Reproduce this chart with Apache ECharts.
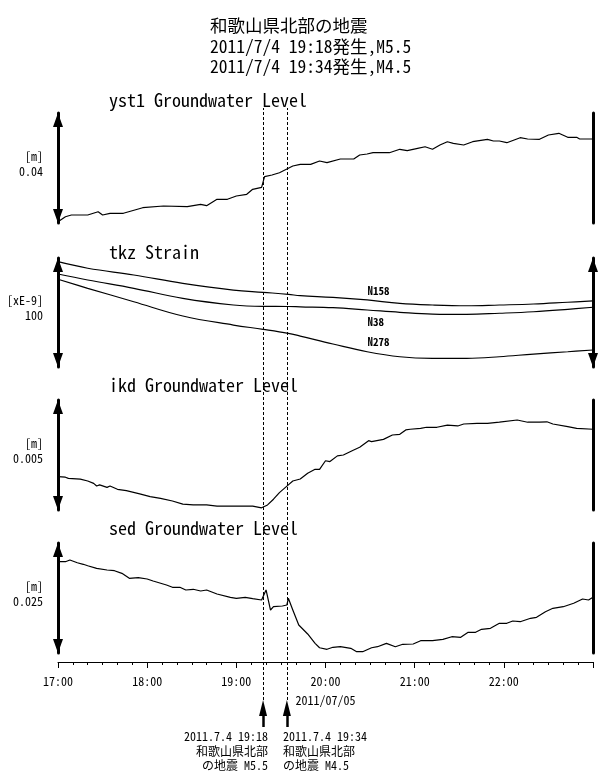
<!DOCTYPE html>
<html>
<head>
<meta charset="utf-8">
<script src="https://cdn.jsdelivr.net/npm/echarts@6/dist/echarts.min.js"></script>
<style>
html, body { margin: 0; padding: 0; background: #fff; }
#main { width: 602px; height: 774px; }
</style>
</head>
<body>
<div id="main"></div>
<script>
var FONT = "'Noto Sans Mono CJK JP','Noto Sans CJK JP',monospace";

// time in minutes after 2011/7/4 17:00
var eventT = [138, 154];

// yst1 groundwater level [m]
var yst1T = [0,5,9,20,27,30,35,44,57,71,87,96,100,107,114,120,127,131,137,139,144,149,155,158,163,170,176,181,190,199,203,208,212,223,230,235,242,247,252,257,262,266,273,279,289,293,297,302,311,316,324,330,337,343,349,351,360];
var yst1V = [0.00047,0.00229,0.00291,0.00291,0.00411,0.00291,0.00353,0.00353,0.00556,0.00618,0.00593,0.0068,0.00629,0.00862,0.00862,0.00982,0.01044,0.01225,0.01298,0.01684,0.01745,0.01829,0.01989,0.02073,0.02134,0.02134,0.02254,0.02193,0.02327,0.02327,0.02473,0.02509,0.02556,0.02556,0.0268,0.02629,0.02716,0.02774,0.0268,0.02836,0.02956,0.02898,0.02836,0.02956,0.03043,0.02982,0.02982,0.0292,0.03102,0.03054,0.03043,0.032,0.03261,0.03116,0.03116,0.03054,0.03054];

// tkz strain [xE-9]
var tkzT = [0,20,51,84,118,138,155,163,185,208,230,252,275,297,320,343,360];
var n158V = [96.6,90.6,84.4,76.8,70.6,68.5,66.7,65.4,63.9,61.5,58.4,56.9,56.2,56.9,57.8,59.4,60.6];
var n38V = [85.3,79.8,72.2,63.0,56.9,55.6,55.5,55.2,54.4,52.3,50.2,48.6,48.3,49.3,50.7,52.9,54.8];
var n278V = [80.5,72.2,59.9,46.8,38.5,34.6,30.9,28.4,21.1,14.0,9.4,8.0,8.0,9.4,11.9,14.0,15.6];
var strainNames = ['N158', 'N38', 'N278'];

// ikd groundwater level [m]
var ikdT = [0,1,5,7,15,20,24,26,28,33,35,40,46,55,62,69,77,84,91,100,107,118,131,137,141,145,149,155,158,163,168,173,176,180,183,188,192,199,203,209,211,219,225,230,234,237,244,248,255,262,269,273,282,289,297,309,316,324,329,333,343,349,360];
var ikdV = [0.00152,0.00151,0.00149,0.00144,0.0014,0.00132,0.00121,0.00109,0.00114,0.00103,0.00109,0.00094,0.00088,0.00073,0.00061,0.00053,0.00041,0.00027,0.00023,0.00023,0.00018,0.00018,0.00018,0.0001,0.00023,0.00049,0.00079,0.00114,0.00132,0.00141,0.00167,0.00185,0.00185,0.00224,0.0022,0.00246,0.0025,0.00273,0.00285,0.00315,0.00311,0.00321,0.00341,0.00344,0.00364,0.00367,0.00371,0.00376,0.00376,0.00386,0.00382,0.00391,0.00394,0.00394,0.00399,0.00409,0.00399,0.00399,0.00401,0.00391,0.00379,0.00371,0.00367];

// sed groundwater level [m]
var sedT = [0,5,8,13,17,20,26,33,38,43,48,54,60,64,73,77,82,86,91,96,100,107,116,120,126,131,137,140,143,145,151,154,155,158,162,163,168,173,176,181,185,190,197,201,205,211,215,221,227,232,239,244,252,259,265,271,276,281,285,291,297,302,306,311,318,322,328,333,340,347,353,357,360];
var sedV = [0.02075,0.02075,0.02114,0.02052,0.02016,0.01984,0.01925,0.01886,0.0187,0.01811,0.01698,0.01711,0.01682,0.01636,0.01545,0.01493,0.01493,0.01432,0.01448,0.01409,0.01432,0.01341,0.01266,0.01243,0.01266,0.01234,0.01205,0.01432,0.00977,0.01052,0.01068,0.01091,0.01243,0.00977,0.00636,0.00598,0.00432,0.0022,0.0012,0.00084,0.0013,0.00143,0.00107,0.0003,0.0003,0.0012,0.00143,0.0022,0.00143,0.00198,0.00205,0.0028,0.0028,0.00311,0.0037,0.00357,0.0047,0.0047,0.00539,0.00561,0.00675,0.00675,0.00727,0.00711,0.00789,0.00811,0.00939,0.01016,0.01052,0.0113,0.01227,0.01205,0.01266];

var panelTitles = ['yst1 Groundwater Level', 'tkz Strain', 'ikd Groundwater Level', 'sed Groundwater Level'];
var scaleUnits = ['[m]', '[xE-9]', '[m]', '[m]'];
var scaleText = ['0.04', '100', '0.005', '0.025'];
var scaleMax = [0.04, 100, 0.005, 0.025];
var titleLines = ['和歌山県北部の地震', '2011/7/4 19:18発生,M5.5', '2011/7/4 19:34発生,M4.5'];
var note1 = ['2011.7.4 19:18', '和歌山県北部', 'の地震 M5.5'];
var note2 = ['2011.7.4 19:34', '和歌山県北部', 'の地震 M4.5'];

function zip(t, v) {
    var out = [];
    for (var i = 0; i < t.length; i++) out.push([t[i], v[i]]);
    return out;
}
function hhmm(m) {
    var h = 17 + Math.floor(m / 60);
    var mm = m % 60;
    return h + ':' + (mm < 10 ? '0' : '') + mm;
}

var panels = [{top: 113, h: 110}, {top: 258, h: 109}, {top: 400, h: 110}, {top: 543, h: 110}];
var grid = [], xAxis = [], yAxis = [];
panels.forEach(function (p, i) {
    grid.push({left: 58, right: 9, top: p.top, height: p.h});
    xAxis.push({
        type: 'value', gridIndex: i, min: 0, max: 360, show: i === 3,
        interval: 60, offset: 9,
        axisLine: {onZero: false, lineStyle: {color: '#000', width: 1}},
        axisTick: {length: 6, lineStyle: {color: '#000'}},
        minorTick: {show: true, splitNumber: 6, length: 3, lineStyle: {color: '#000'}},
        splitLine: {show: false},
        axisLabel: {
            color: '#000', fontFamily: FONT, fontSize: 12, margin: 10, lineHeight: 19,
            formatter: function (v) {
                if (v === 360) return '';
                return hhmm(v) + (v === 180 ? '\n2011/07/05' : '');
            }
        }
    });
    var arrow = {show: true, onZero: false, symbol: ['triangle', 'triangle'], symbolSize: [10, 14], symbolOffset: [7, -7],
        lineStyle: {color: '#000', width: 3}};
    yAxis.push({
        type: 'value', gridIndex: i, position: 'left', min: 0, max: scaleMax[i],
        axisLine: arrow, axisTick: {show: false}, axisLabel: {show: false}, splitLine: {show: false},
        // trailing small empty line lifts the two-line label a little above the middle
        name: scaleUnits[i] + '\n' + scaleText[i] + '\n{gap|}', nameLocation: 'middle', nameRotate: 0, nameGap: 15,
        nameTextStyle: {color: '#000', fontFamily: FONT, fontSize: 12, align: 'right', lineHeight: 15,
            rich: {gap: {lineHeight: 9, fontSize: 1}}}
    });
    yAxis.push({
        type: 'value', gridIndex: i, position: 'right', min: 0, max: scaleMax[i],
        axisLine: i === 1 ? arrow : {show: true, onZero: false, lineStyle: {color: '#000', width: 3}},
        axisTick: {show: false}, axisLabel: {show: false}, splitLine: {show: false}
    });
});
// overlay grids for event lines and arrows
grid.push({left: 58, right: 9, top: 108, height: 592});
grid.push({left: 58, right: 9, top: 708, height: 19});
[4, 5].forEach(function (g) {
    xAxis.push({type: 'value', gridIndex: g, min: 0, max: 360, show: false});
    yAxis.push({type: 'value', gridIndex: g, min: 0, max: 1, show: false});
});

var lineStyle = {color: '#000', width: 1.2};
function plain(data, xi, yi, smooth) {
    return {
        type: 'line', data: data, xAxisIndex: xi, yAxisIndex: yi, smooth: smooth || false,
        showSymbol: false, lineStyle: lineStyle, silent: true
    };
}
var labelOffsets = [-9, 12, -10];
var series = [
    plain(zip(yst1T, yst1V), 0, 0),
    plain(zip(ikdT, ikdV), 2, 4),
    plain(zip(sedT, sedV), 3, 6)
];
[n158V, n38V, n278V].forEach(function (vals, k) {
    var s = plain(zip(tkzT, vals), 1, 2, 0.4);
    var idx = tkzT.indexOf(208);
    s.markPoint = {
        symbol: 'circle', symbolSize: 1, itemStyle: {color: 'rgba(0,0,0,0)'},
        label: {show: true, position: 'right', distance: 0, offset: [0, labelOffsets[k]],
            formatter: strainNames[k], color: '#000', fontFamily: FONT, fontSize: 11, fontWeight: 'bold'},
        data: [{coord: [208, vals[idx]]}]
    };
    series.push(s);
});
series.push({
    type: 'line', data: [], xAxisIndex: 4, yAxisIndex: 8,
    markLine: {
        silent: true, symbol: ['none', 'none'], label: {show: false},
        lineStyle: {color: '#000', width: 1, type: [3, 2]},
        data: eventT.map(function (t) { return {xAxis: t}; })
    }
});
series.push({
    type: 'line', data: [], xAxisIndex: 5, yAxisIndex: 9,
    markLine: {
        silent: true, symbol: ['none', 'triangle'], symbolSize: [8, 16], label: {show: false},
        lineStyle: {color: '#000', width: 2.5, type: 'solid'},
        data: eventT.map(function (t) { return [{coord: [t, 0]}, {coord: [t, 1]}]; })
    }
});

var graphic = [{
    type: 'text', x: 210, y: 46,
    style: {text: titleLines.join('\n'), font: '17.5px ' + FONT, fill: '#000', lineHeight: 20.5, verticalAlign: 'middle'}
}];
var titleY = [100, 252, 385, 528];
panelTitles.forEach(function (t, i) {
    graphic.push({type: 'text', x: 109, y: titleY[i],
        style: {text: t, font: '18px ' + FONT, fill: '#000', verticalAlign: 'middle'}});
});
graphic.push({type: 'text', x: 268, y: 751,
    style: {text: note1.join('\n'), font: '12px ' + FONT, fill: '#000', align: 'right', verticalAlign: 'middle', lineHeight: 14.5}});
graphic.push({type: 'text', x: 283, y: 751,
    style: {text: note2.join('\n'), font: '12px ' + FONT, fill: '#000', align: 'left', verticalAlign: 'middle', lineHeight: 14.5}});

var chart = echarts.init(document.getElementById('main'));
chart.setOption({
    backgroundColor: '#fff',
    animation: false,
    grid: grid,
    xAxis: xAxis,
    yAxis: yAxis,
    series: series,
    graphic: graphic
});
</script>
</body>
</html>
